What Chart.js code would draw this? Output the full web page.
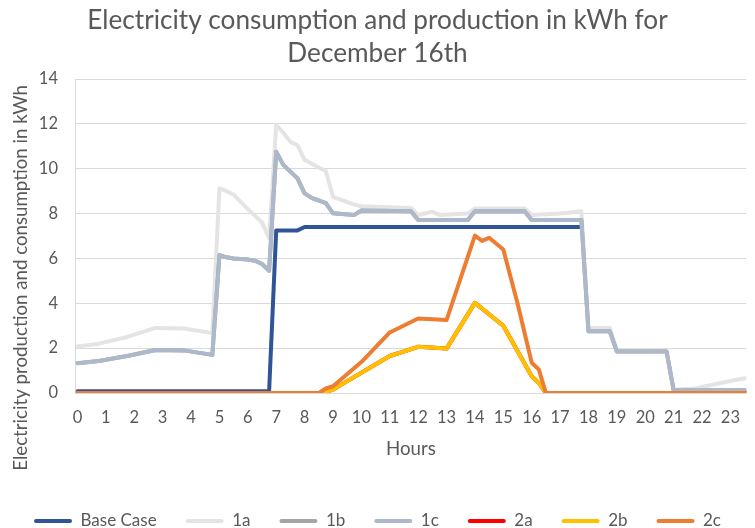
<!DOCTYPE html>
<html>
<head>
<meta charset="utf-8">
<script src="https://cdn.jsdelivr.net/npm/chart.js@4/dist/chart.umd.min.js"></script>
<style>
html,body{margin:0;padding:0;background:#fff;}
#wrap{width:755px;height:528px;}
</style>
</head>
<body>
<div id="wrap"><canvas id="c" width="755" height="528"></canvas></div>
<script>
// ---- data (hours of the day, kWh) ----
const titleLines = ['Electricity consumption and production in kWh for', 'December 16th'];
const xTitle = 'Hours';
const yTitle = 'Electricity production and consumption in kWh';
const xTickLabels = [0,1,2,3,4,5,6,7,8,9,10,11,12,13,14,15,16,17,18,19,20,21,22,23];
const yTickValues = [0,2,4,6,8,10,12,14];

const seriesNames  = ['Base Case','1a','1b','1c','2a','2b','2c'];
const seriesColors = ['#2F5597','#E4E4E4','#A5A5A5','#ADB9CA','#FF0000','#FFC000','#ED7D31'];

const baseHours  = [0, 6.75, 7, 7.75, 8, 17.75];
const baseValues = [0.08, 0.08, 7.25, 7.25, 7.4, 7.4];

const hours1a  = [0, 0.75, 1.75, 2.75, 3.75, 4.75, 5, 5.25, 5.5, 6, 6.5, 6.75, 7, 7.25, 7.5, 7.75, 8, 8.5, 8.75, 9, 9.75, 10, 11.75, 12, 12.5, 12.75, 13.75, 14, 15.75, 16, 17, 17.75, 18, 18.75, 19, 20.75, 21, 21.75, 22.5, 23.25, 23.75];
const values1a = [2.07, 2.2, 2.5, 2.9, 2.88, 2.67, 9.13, 9.0, 8.85, 8.2, 7.6, 6.9, 11.95, 11.6, 11.2, 11.05, 10.4, 10.05, 9.9, 8.75, 8.4, 8.33, 8.25, 7.94, 8.08, 7.94, 8.0, 8.23, 8.23, 7.94, 8.0, 8.1, 2.9, 2.9, 1.9, 1.9, 0.15, 0.2, 0.4, 0.6, 0.7];

const hours1b  = [0, 0.75, 1.75, 2.75, 3.75, 4.75, 5, 5.25, 5.5, 6, 6.25, 6.5, 6.75, 7, 7.25, 7.75, 8, 8.25, 8.75, 9, 9.75, 10, 11.75, 12, 13.75, 14, 15.75, 16, 17.75, 18, 18.75, 19, 20.75, 21, 23.75];
const values1b = [1.33, 1.43, 1.65, 1.92, 1.9, 1.7, 6.15, 6.05, 6.0, 5.95, 5.9, 5.75, 5.45, 10.76, 10.17, 9.57, 8.9, 8.7, 8.47, 8.01, 7.94, 8.14, 8.1, 7.71, 7.71, 8.1, 8.1, 7.71, 7.71, 2.75, 2.75, 1.85, 1.85, 0.12, 0.12];

const hours1c  = [0, 0.75, 1.75, 2.75, 3.75, 4.75, 5, 5.25, 5.5, 6, 6.25, 6.5, 6.75, 7, 7.25, 7.75, 8, 8.25, 8.75, 9, 9.75, 10, 11.75, 12, 13.75, 14, 15.75, 16, 17.75, 18, 18.75, 19, 20.75, 21, 23.75];
const values1c = [1.33, 1.43, 1.65, 1.92, 1.9, 1.7, 6.15, 6.05, 6.0, 5.95, 5.9, 5.75, 5.45, 10.76, 10.17, 9.57, 8.9, 8.7, 8.47, 8.01, 7.94, 8.14, 8.1, 7.71, 7.71, 8.1, 8.1, 7.71, 7.71, 2.75, 2.75, 1.85, 1.85, 0.12, 0.12];

const hours2a  = [0, 8.5, 8.75, 9, 10, 11, 12, 13, 14, 15, 16, 16.25, 16.5, 23.75];
const values2a = [0, 0, 0.05, 0.15, 0.9, 1.65, 2.06, 1.98, 4.02, 3.0, 0.75, 0.45, 0, 0];

const hours2b  = [0, 8.5, 8.75, 9, 10, 11, 12, 13, 14, 15, 16, 16.25, 16.5, 23.75];
const values2b = [0, 0, 0.05, 0.15, 0.9, 1.65, 2.06, 1.98, 4.02, 3.0, 0.75, 0.45, 0, 0];

const hours2c  = [0, 8.5, 8.75, 9, 10, 11, 12, 13, 14, 14.25, 14.5, 15, 15.5, 16, 16.25, 16.5, 23.75];
const values2c = [0, 0, 0.2, 0.3, 1.38, 2.7, 3.32, 3.25, 7.02, 6.78, 6.92, 6.4, 4.0, 1.35, 1.05, 0, 0];

const seriesHours  = [baseHours, hours1a, hours1b, hours1c, hours2a, hours2b, hours2c];
const seriesValues = [baseValues, values1a, values1b, values1c, values2a, values2b, values2c];

// ---- chart ----
const TEXT = '#595959';
const FONT = 'Lato';

const datasets = seriesNames.map((name, i) => ({
  label: name,
  data: seriesHours[i].map((h, j) => ({x: h, y: seriesValues[i][j]})),
  borderColor: seriesColors[i],
  backgroundColor: seriesColors[i],
  borderWidth: 4,
  pointRadius: 0,
  pointHoverRadius: 0,
  tension: 0,
  fill: false,
  borderJoinStyle: 'round',
  borderCapStyle: 'round',
  order: seriesNames.length - i   // later series drawn on top
}));

const yTitlePlugin = {
  id: 'yTitle',
  afterDraw(chart) {
    const ctx = chart.ctx;
    ctx.save();
    ctx.translate(21, 85);
    ctx.rotate(-Math.PI / 2);
    ctx.fillStyle = TEXT;
    ctx.font = '18.7px ' + FONT;
    ctx.textAlign = 'right';
    ctx.textBaseline = 'middle';
    ctx.fillText(yTitle, 0, 0);
    ctx.restore();
  }
};

new Chart(document.getElementById('c'), {
  type: 'line',
  data: {datasets},
  plugins: [yTitlePlugin],
  options: {
    responsive: false,
    animation: false,
    events: [],
    layout: {padding: {left: 0, right: 0, top: 0, bottom: -11.5}},
    plugins: {
      tooltip: {enabled: false},
      title: {
        display: true,
        text: titleLines,
        color: TEXT,
        font: {family: FONT, size: 26.2, weight: 'normal', lineHeight: 1.26},
        padding: {top: 4.5, bottom: 8.5}
      },
      legend: {
        position: 'bottom',
        labels: {
          color: TEXT,
          font: {family: FONT, size: 17},
          boxWidth: 38,
          boxHeight: 4,
          padding: 29,
          sort: (a, b) => a.datasetIndex - b.datasetIndex,
          generateLabels(chart) {
            const items = Chart.defaults.plugins.legend.labels.generateLabels(chart);
            items.forEach(it => { it.lineWidth = 0; it.fillStyle = seriesColors[it.datasetIndex]; it.borderRadius = 2; });
            return items;
          }
        }
      }
    },
    scales: {
      x: {
        type: 'linear',
        min: -0.07,
        max: 23.56,
        afterBuildTicks(scale) { scale.ticks = xTickLabels.map(v => ({value: v})); },
        afterFit(scale) { scale.height = 90.5; },
        grid: {display: false, drawTicks: false},
        border: {display: true, color: '#D9D9D9', width: 1},
        ticks: {color: TEXT, font: {family: FONT, size: 16.5}, padding: 15, autoSkip: false, maxRotation: 0,
                callback: v => String(v)},
        title: {display: true, text: xTitle, color: TEXT, font: {family: FONT, size: 18.7}, padding: {top: 0, bottom: 23.3}}
      },
      y: {
        type: 'linear',
        min: 0,
        max: 14,
        afterBuildTicks(scale) { scale.ticks = yTickValues.map(v => ({value: v})); },
        afterFit(scale) { scale.width = 75.5; },
        grid: {color: '#D9D9D9', lineWidth: 1, drawTicks: false},
        border: {display: true, color: '#D9D9D9', width: 1},
        ticks: {color: TEXT, font: {family: FONT, size: 16.5}, padding: 17.5}
      }
    }
  }
});
</script>
</body>
</html>
